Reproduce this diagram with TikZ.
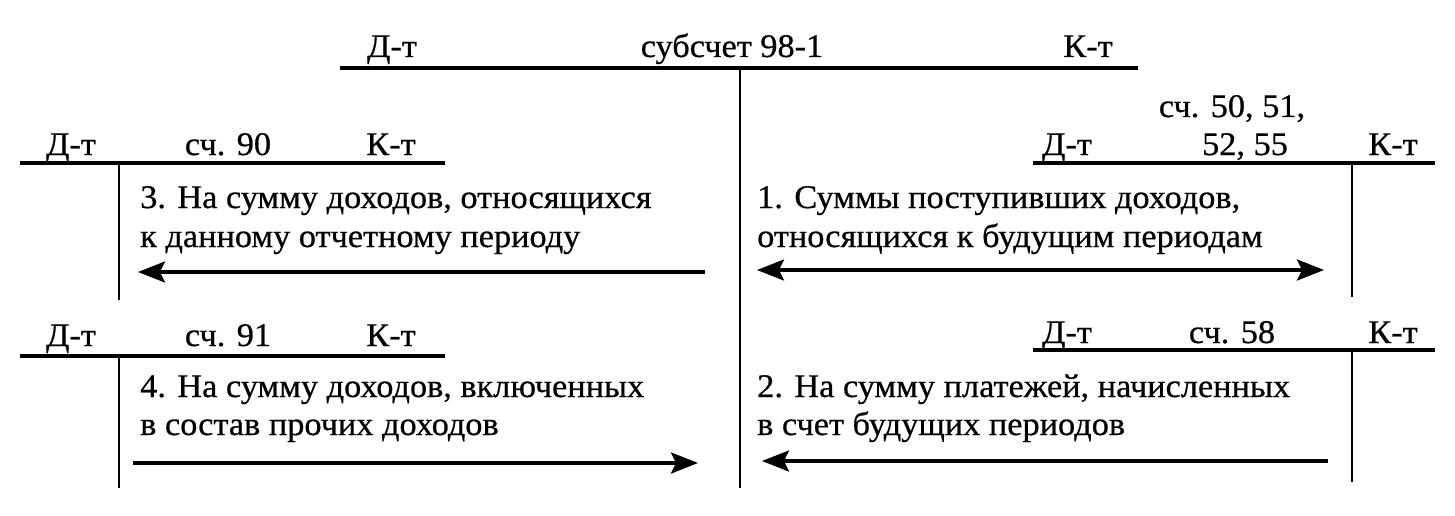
\documentclass[tikz,border=0pt]{standalone}
\usepackage{fontspec}
\setmainfont[FakeStretch=1.04,FakeBold=0.6]{Liberation Serif}
\usetikzlibrary{arrows.meta}
\begin{document}
\begin{tikzpicture}[x=1pt,y=-1pt,
  lbl/.style={font=\fontsize{33}{39}\selectfont, inner sep=0pt, anchor=base},
  txt/.style={font=\fontsize{33}{39}\selectfont, inner sep=0pt, anchor=base west},
  hline/.style={line width=3.2pt},
  vline/.style={line width=2.4pt},
  arr/.style={line width=3.2pt, -{Stealth[length=27pt,width=21pt,inset=5pt]}},
  darr/.style={line width=3.2pt, {Stealth[length=27pt,width=21pt,inset=5pt]}-{Stealth[length=27pt,width=21pt,inset=5pt]}},
]
\useasboundingbox (0,0) rectangle (1455,516);

% main account 98-1
\coordinate (mL) at (340,68); \coordinate (mR) at (1138,68);
\coordinate (mT) at (740,68); \coordinate (mB) at (740,488);
\draw[hline] (mL) -- (mR);
\draw[vline] (mT) -- (mB);
\node[lbl] (mD) at (392,57) {Д-т};
\node[lbl] (mN) at (732,57) {субсчет 98-1};
\node[lbl] (mK) at (1088,57) {К-т};

% account 90
\coordinate (aL) at (20,163); \coordinate (aR) at (445,163);
\coordinate (aT) at (119,163); \coordinate (aB) at (119,300);
\draw[hline] (aL) -- (aR);
\draw[vline] (aT) -- (aB);
\node[lbl] (aD) at (71,155) {Д-т};
\node[lbl] (aN) at (228,155) {сч. 90};
\node[lbl] (aK) at (391,155) {К-т};
\node[txt] (a1) at (140,208) {3. На сумму доходов, относящихся};
\node[txt] (a2) at (140,247) {к данному отчетному периоду};
\coordinate (aS) at (705,272); \coordinate (aE) at (138,272);
\draw[arr] (aS) -- (aE);

% account 91
\coordinate (bL) at (20,356); \coordinate (bR) at (445,356);
\coordinate (bT) at (119,356); \coordinate (bB) at (119,488);
\draw[hline] (bL) -- (bR);
\draw[vline] (bT) -- (bB);
\node[lbl] (bD) at (71,346) {Д-т};
\node[lbl] (bN) at (228,346) {сч. 91};
\node[lbl] (bK) at (391,346) {К-т};
\node[txt] (b1) at (140,397) {4. На сумму доходов, включенных};
\node[txt] (b2) at (140,435) {в состав прочих доходов};
\coordinate (bS) at (133,463); \coordinate (bE) at (698,463);
\draw[arr] (bS) -- (bE);

% account 50,51,52,55
\coordinate (cL) at (1033,163); \coordinate (cR) at (1435,163);
\coordinate (cT) at (1352,163); \coordinate (cB) at (1352,297);
\draw[hline] (cL) -- (cR);
\draw[vline] (cT) -- (cB);
\node[lbl] (cN1) at (1232,117) {сч. 50, 51,};
\node[lbl] (cD) at (1067,155) {Д-т};
\node[lbl] (cN2) at (1245,155) {52, 55};
\node[lbl] (cK) at (1393,155) {К-т};
\node[txt] (c1) at (757,208) {1. Суммы поступивших доходов,};
\node[txt] (c2) at (757,247) {относящихся к будущим периодам};
\coordinate (cS) at (757,270); \coordinate (cE) at (1324,270);
\draw[darr] (cS) -- (cE);

% account 58
\coordinate (dL) at (1033,350); \coordinate (dR) at (1435,350);
\coordinate (dT) at (1352,350); \coordinate (dB) at (1352,482);
\draw[hline] (dL) -- (dR);
\draw[vline] (dT) -- (dB);
\node[lbl] (dD) at (1067,343) {Д-т};
\node[lbl] (dN) at (1232,343) {сч. 58};
\node[lbl] (dK) at (1393,343) {К-т};
\node[txt] (d1) at (757,397) {2. На сумму платежей, начисленных};
\node[txt] (d2) at (757,435) {в счет будущих периодов};
\coordinate (dS) at (1328,461); \coordinate (dE) at (762,461);
\draw[arr] (dS) -- (dE);
\end{tikzpicture}
\end{document}
